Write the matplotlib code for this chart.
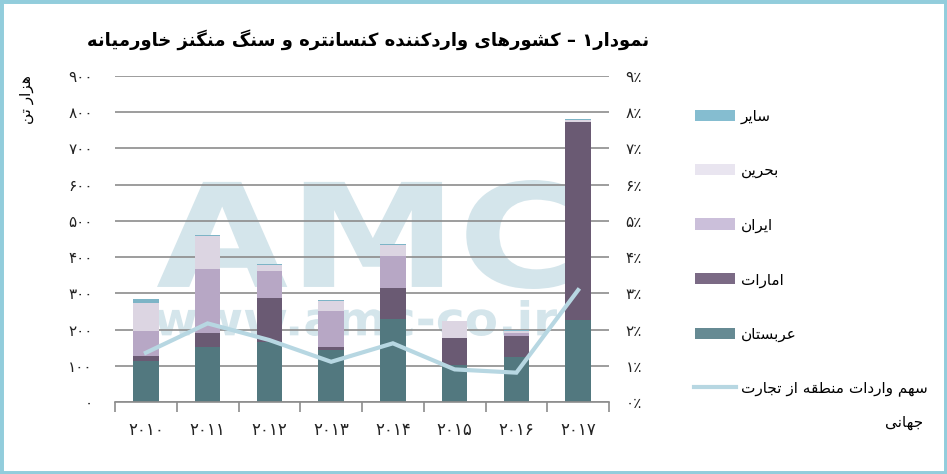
import matplotlib
matplotlib.use('Agg')
import matplotlib.pyplot as plt
import numpy as np
from matplotlib.patches import Rectangle, PathPatch
from matplotlib.textpath import TextPath
from matplotlib.font_manager import FontProperties
from matplotlib.transforms import Affine2D
from matplotlib.lines import Line2D

plt.rcParams['font.family'] = ['DejaVu Sans']

# ---------------- data ----------------
years = ['2010', '2011', '2012', '2013', '2014', '2015', '2016', '2017']
arabia = [114, 153, 166, 144, 230, 102, 125, 226]
uae = [14, 38, 122, 9, 85, 76, 58, 548]
iran = [69, 177, 74, 98, 88, 0, 8, 0]
bahrain = [76, 91, 16, 29, 30, 45, 5, 5]
others = [10, 2, 3, 2, 3, 2, 2, 2]
share = [1.36, 2.17, 1.71, 1.11, 1.62, 0.90, 0.81, 3.09]

series_names = ['عربستان', 'امارات', 'ایران', 'بحرین', 'سایر']
line_name = ['سهم واردات منطقه از تجارت', 'جهانی']
title = 'نمودار۱ – کشورهای واردکننده کنسانتره و سنگ منگنز خاورمیانه'
ylabel = 'هزار تن'

bar_colors = ['#52787F', '#6A5A73', '#B7A7C5', '#DCD5E2', '#7DB4C6']
legend_colors = ['#668A93', '#7B6A85', '#CBBFDA', '#E9E5F0', '#85BDD0']
line_color = '#B7D7E2'

# ---------------- minimal Persian shaping ----------------
DUAL = {
    'ب': (0xFE8F, 0xFE90, 0xFE91, 0xFE92), 'پ': (0xFB56, 0xFB57, 0xFB58, 0xFB59),
    'ت': (0xFE95, 0xFE96, 0xFE97, 0xFE98), 'ث': (0xFE99, 0xFE9A, 0xFE9B, 0xFE9C),
    'ج': (0xFE9D, 0xFE9E, 0xFE9F, 0xFEA0), 'چ': (0xFB7A, 0xFB7B, 0xFB7C, 0xFB7D),
    'ح': (0xFEA1, 0xFEA2, 0xFEA3, 0xFEA4), 'خ': (0xFEA5, 0xFEA6, 0xFEA7, 0xFEA8),
    'س': (0xFEB1, 0xFEB2, 0xFEB3, 0xFEB4), 'ش': (0xFEB5, 0xFEB6, 0xFEB7, 0xFEB8),
    'ص': (0xFEB9, 0xFEBA, 0xFEBB, 0xFEBC), 'ض': (0xFEBD, 0xFEBE, 0xFEBF, 0xFEC0),
    'ط': (0xFEC1, 0xFEC2, 0xFEC3, 0xFEC4), 'ظ': (0xFEC5, 0xFEC6, 0xFEC7, 0xFEC8),
    'ع': (0xFEC9, 0xFECA, 0xFECB, 0xFECC), 'غ': (0xFECD, 0xFECE, 0xFECF, 0xFED0),
    'ف': (0xFED1, 0xFED2, 0xFED3, 0xFED4), 'ق': (0xFED5, 0xFED6, 0xFED7, 0xFED8),
    'ک': (0xFB8E, 0xFB8F, 0xFB90, 0xFB91), 'گ': (0xFB92, 0xFB93, 0xFB94, 0xFB95),
    'ل': (0xFEDD, 0xFEDE, 0xFEDF, 0xFEE0), 'م': (0xFEE1, 0xFEE2, 0xFEE3, 0xFEE4),
    'ن': (0xFEE5, 0xFEE6, 0xFEE7, 0xFEE8), 'ه': (0xFEE9, 0xFEEA, 0xFEEB, 0xFEEC),
    'ی': (0xFBFC, 0xFBFD, 0xFBFE, 0xFBFF),
}
RIGHT = {
    'ا': (0xFE8D, 0xFE8E), 'د': (0xFEA9, 0xFEAA), 'ذ': (0xFEAB, 0xFEAC),
    'ر': (0xFEAD, 0xFEAE), 'ز': (0xFEAF, 0xFEB0), 'ژ': (0xFB8A, 0xFB8B),
    'و': (0xFEED, 0xFEEE),
}
PDIG = str.maketrans('0123456789', '۰۱۲۳۴۵۶۷۸۹')


def shape(s):
    out = []
    n = len(s)
    for i, c in enumerate(s):
        prev = s[i - 1] if i > 0 else ''
        nxt = s[i + 1] if i + 1 < n else ''
        jp = prev in DUAL
        if c in RIGHT:
            f = RIGHT[c]
            out.append(chr(f[1] if jp else f[0]))
        elif c in DUAL:
            iso, fin, ini, med = DUAL[c]
            jn = nxt in DUAL or nxt in RIGHT
            if jp and jn:
                out.append(chr(med))
            elif jp:
                out.append(chr(fin))
            elif jn:
                out.append(chr(ini))
            else:
                out.append(chr(iso))
        else:
            out.append(c)
    out = out[::-1]
    res, run = [], []
    for ch in out:
        if ch.isdigit():
            run.append(ch)
        else:
            res.extend(run[::-1]); run = []
            res.append(ch)
    res.extend(run[::-1])
    return ''.join(res)


# ---------------- figure ----------------
W, H = 947, 474
fig = plt.figure(figsize=(W / 100, H / 100), dpi=100)


def fx(px):
    return px / W


def fy(py):
    return 1 - py / H


ax = fig.add_axes([fx(115), fy(402), fx(609) - fx(115), fy(76) - fy(402)])
x = np.arange(len(years))
bottom = np.zeros(len(years))
for vals, col in zip([arabia, uae, iran, bahrain, others], bar_colors):
    ax.bar(x, vals, 0.41, bottom=bottom, color=col, zorder=2, linewidth=0)
    bottom += np.array(vals)

ax.set_xlim(-0.5, len(years) - 0.5)
ax.set_ylim(0, 900)
ax.set_yticks(range(0, 901, 100))
ax.set_yticklabels([str(v).translate(PDIG) for v in range(0, 901, 100)], fontsize=11)
ax.set_axisbelow(True)
ax.yaxis.grid(True, color='#8C8C8C', lw=1.2)
for sp in ['top', 'left', 'right']:
    ax.spines[sp].set_visible(False)
ax.spines['bottom'].set_color('#8C8C8C')
ax.spines['bottom'].set_linewidth(1.2)
ax.tick_params(axis='y', length=0, pad=16, colors='#222222')
ax.set_xticks(x)
ax.set_xticklabels([y.translate(PDIG) for y in years], fontsize=12)
ax.set_xticks(np.arange(-0.5, len(years)), minor=True)
ax.tick_params(axis='x', which='major', length=0, pad=14, colors='#222222')
ax.tick_params(axis='x', which='minor', length=7, width=1.2, color='#8C8C8C')


# watermark (behind grid and bars)
def fit_text(txt, x0, x1, y0, y1):
    tp = TextPath((0, 0), txt, size=1, prop=FontProperties(family='DejaVu Sans', weight='bold'))
    bb = tp.get_extents()
    tr = (Affine2D().translate(-bb.x0, -bb.y0)
          .scale((fx(x1) - fx(x0)) / bb.width, (fy(y0) - fy(y1)) / bb.height)
          .translate(fx(x0), fy(y1)) + fig.transFigure)
    p = PathPatch(tp, transform=tr, facecolor='#D4E5EB', edgecolor='none', zorder=0.3)
    ax.add_patch(p)


fit_text('AMC', 157, 572, 180, 289)
fit_text('www.amc-co.ir', 155, 557, 300, 336)

ax2 = ax.twinx()
ax2.plot(x, share, color=line_color, lw=3, solid_joinstyle='miter')
ax2.set_ylim(0, 9)
ax2.set_yticks(range(0, 10))
ax2.set_yticklabels([(str(v).translate(PDIG) + '٪') for v in range(0, 10)], fontsize=11)
for sp in ax2.spines.values():
    sp.set_visible(False)
ax2.tick_params(axis='y', length=0, pad=12, colors='#222222')

# title and y label
fig.text(fx(368), fy(40), shape(title), ha='center', va='center', fontsize=13, fontweight='bold')
fig.text(fx(27), fy(100), shape(ylabel), ha='center', va='center', fontsize=11, rotation=90)

# legend (top to bottom: سایر ... عربستان, then line)
leg_y = [115, 169, 224, 278, 333]
for k, yy in enumerate(leg_y):
    idx = 4 - k
    fig.patches.append(Rectangle((fx(695), fy(yy + 5.5)), fx(735) - fx(695), fy(yy - 5.5) - fy(yy + 5.5),
                                 transform=fig.transFigure, facecolor=legend_colors[idx], edgecolor='none'))
    fig.text(fx(741), fy(yy + 2), shape(series_names[idx]), ha='left', va='center', fontsize=11)
fig.lines.append(Line2D([fx(694), fx(736)], [fy(387), fy(387)], transform=fig.transFigure,
                        color=line_color, lw=3))
fig.text(fx(741), fy(389), shape(line_name[0]), ha='left', va='center', fontsize=11)
fig.text(fx(923), fy(423), shape(line_name[1]), ha='right', va='center', fontsize=11)

# frame
fig.patches.append(Rectangle((0, 0), 1, 1, transform=fig.transFigure, fill=False,
                             edgecolor='#92CDDC', lw=5))

fig.savefig('out.png', dpi=100)
